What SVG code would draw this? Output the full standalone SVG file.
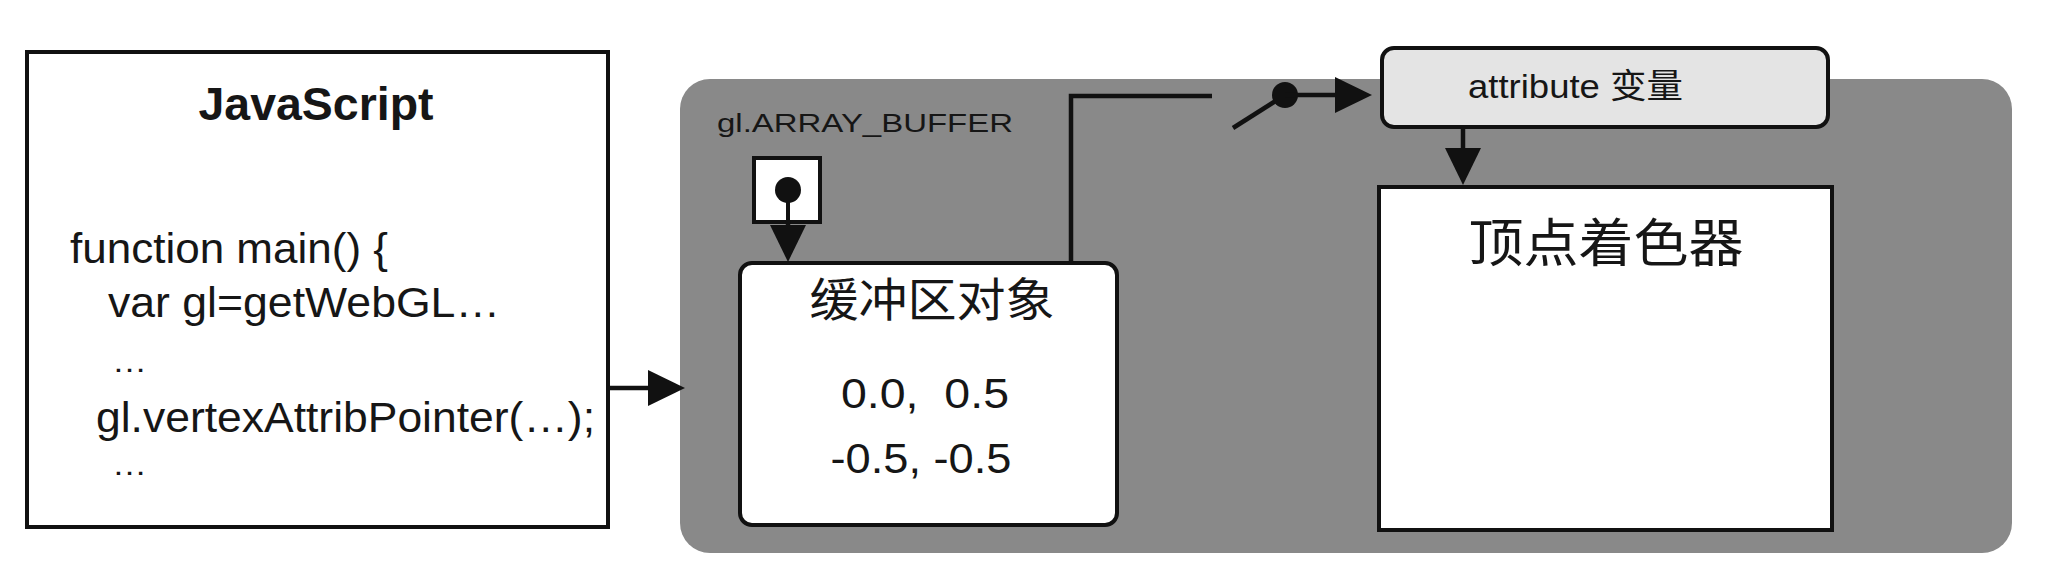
<svg xmlns="http://www.w3.org/2000/svg" width="2048" height="582" viewBox="0 0 2048 582">
  <style>
    .box { fill: #ffffff; stroke: #111111; stroke-width: 4; }
    .wire { fill: none; stroke: #111111; stroke-width: 4.5; }
    .txt { font-family: "Liberation Sans", Arial, "Noto Sans CJK SC", sans-serif; fill: #161616; }
    .cjk { font-family: "Noto Sans CJK SC", "Liberation Sans", sans-serif; fill: #161616; }
  </style>
  <defs>
    <marker id="arrow" viewBox="0 0 37 36" markerWidth="37" markerHeight="36" refX="5" refY="18" markerUnits="userSpaceOnUse" orient="auto">
      <path d="M0,0 L37,18 L0,36 Z" fill="#111111"/>
    </marker>
  </defs>
  <rect width="2048" height="582" fill="#ffffff"/>

  <g id="webgl-system">
    <rect x="680" y="79" width="1332" height="474" rx="30" ry="30" fill="#898989"/>
    <text class="txt" x="717" y="132" font-size="26" textLength="296" lengthAdjust="spacingAndGlyphs">gl.ARRAY_BUFFER</text>
  </g>

  <g id="javascript">
    <rect class="box" x="27" y="52" width="581" height="475"/>
    <text class="txt" x="316" y="120" font-size="47" font-weight="bold" text-anchor="middle" textLength="235" lengthAdjust="spacingAndGlyphs">JavaScript</text>
    <text class="txt" x="70" y="263" font-size="42" textLength="318" lengthAdjust="spacingAndGlyphs">function main() {</text>
    <text class="txt" x="108" y="317" font-size="42" textLength="392" lengthAdjust="spacingAndGlyphs">var gl=getWebGL…</text>
    <text class="txt" x="112" y="372" font-size="30" textLength="35" lengthAdjust="spacingAndGlyphs">…</text>
    <text class="txt" x="96" y="432" font-size="42" textLength="499" lengthAdjust="spacingAndGlyphs">gl.vertexAttribPointer(…);</text>
    <text class="txt" x="112" y="475" font-size="30" textLength="35" lengthAdjust="spacingAndGlyphs">…</text>
  </g>

  <g id="array-buffer-target">
    <rect class="box" x="754" y="158" width="66" height="64"/>
    <circle cx="788" cy="190" r="13" fill="#111111"/>
    <line x1="788" y1="190" x2="788" y2="222" stroke="#111111" stroke-width="4"/>
  </g>

  <g id="buffer-object">
    <rect class="box" x="740" y="263" width="377" height="262" rx="12" ry="12"/>
    <text class="cjk" x="932" y="316" font-size="46" text-anchor="middle" textLength="245" lengthAdjust="spacingAndGlyphs">缓冲区对象</text>
    <text class="txt" x="925" y="408" font-size="42" text-anchor="middle" xml:space="preserve" textLength="168" lengthAdjust="spacingAndGlyphs">0.0,  0.5</text>
    <text class="txt" x="921" y="473" font-size="42" text-anchor="middle" textLength="181" lengthAdjust="spacingAndGlyphs">-0.5, -0.5</text>
  </g>

  <g id="attribute-variable">
    <rect x="1382" y="48" width="446" height="79" rx="12" ry="12" fill="#e4e4e4" stroke="#111111" stroke-width="4"/>
    <text class="txt" x="1468" y="98" font-size="34" textLength="215" lengthAdjust="spacingAndGlyphs">attribute 变量</text>
  </g>

  <g id="vertex-shader">
    <rect class="box" x="1379" y="187" width="453" height="343"/>
    <text class="cjk" x="1606" y="262" font-size="52" text-anchor="middle" textLength="275" lengthAdjust="spacingAndGlyphs">顶点着色器</text>
  </g>

  <g id="connectors">
    <line class="wire" x1="608" y1="388" x2="653" y2="388" marker-end="url(#arrow)"/>
    <line class="wire" x1="788" y1="220" x2="788" y2="230" marker-end="url(#arrow)"/>
    <path class="wire" d="M1071,263 V96 H1212"/>
    <line class="wire" x1="1233" y1="128" x2="1285" y2="95"/>
    <circle cx="1285" cy="95" r="13" fill="#111111"/>
    <line class="wire" x1="1285" y1="95" x2="1340" y2="95" marker-end="url(#arrow)"/>
    <line class="wire" x1="1463" y1="127" x2="1463" y2="153" marker-end="url(#arrow)"/>
  </g>
</svg>
